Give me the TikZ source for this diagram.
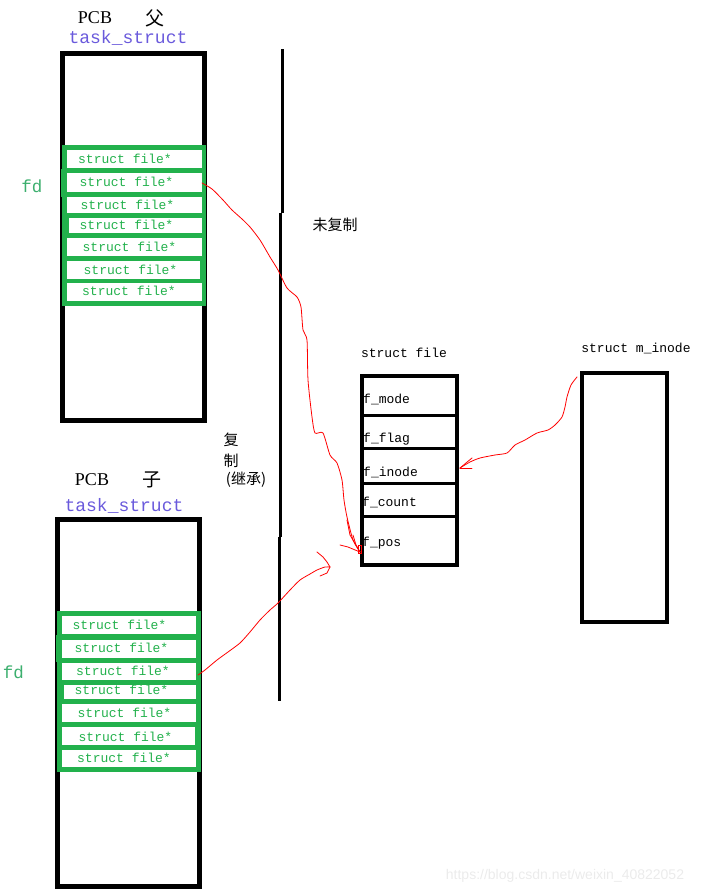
\documentclass[tikz,border=0pt]{standalone}
\usepackage{fontspec}
\setmainfont{Liberation Serif}
\setmonofont{Liberation Mono}
\newfontfamily\cjk{Noto Sans CJK SC}
\newfontfamily\wmfont{Liberation Sans}
\definecolor{pgreen}{RGB}{34,177,76}
\definecolor{fdgreen}{RGB}{60,175,110}
\definecolor{tspurple}{RGB}{106,90,220}
\begin{document}
\begin{tikzpicture}[x=1pt,y=-1pt,
  pcbbox/.style={draw=black,line width=5pt},
  fbox/.style={draw=black,line width=4pt},
  sfile/.style={font=\ttfamily\fontsize{13}{15}\selectfont,text=pgreen,inner sep=0pt},
  fdlab/.style={font=\ttfamily\fontsize{17.5}{20}\selectfont,text=fdgreen,inner sep=0pt},
  tslab/.style={font=\ttfamily\fontsize{18}{20}\selectfont,text=tspurple,inner sep=0pt},
  pcblab/.style={font=\fontsize{18}{20}\selectfont,inner sep=0pt},
  cjklab/.style={font=\cjk\fontsize{15}{18}\selectfont,inner sep=0pt},
  cjkbig/.style={font=\cjk\fontsize{19}{22}\selectfont,inner sep=0pt},
  mono/.style={font=\ttfamily\fontsize{13}{15}\selectfont,inner sep=0pt},
  field/.style={mono,anchor=base west},
  redline/.style={draw=red,line width=0.8pt,line cap=round,line join=round},
  sepline/.style={draw=black,line width=3pt}]
\useasboundingbox (0,0) rectangle (711,894);

% ---------- parent ----------
\node[pcblab] (ppcb) at (95,18) {PCB};
\node[cjkbig] (pfu) at (155,18) {父};
\node[tslab] (pts) at (128,38) {task\_struct};
\draw[pcbbox] (62.5,53.5) rectangle (204.5,420.5);
\fill[pgreen] (62,145) rectangle (206,306);
\fill[pgreen] (61,169) rectangle (66,197);
\fill[white] (67,150) rectangle (202,168);
\fill[white] (67,173) rectangle (202,192);
\fill[white] (67,197) rectangle (202,213);
\fill[white] (69,218) rectangle (202,233);
\fill[white] (67,238) rectangle (202,256);
\fill[white] (67,261) rectangle (200,279);
\fill[white] (67,283) rectangle (202,301);
\node[sfile] (pf1) at (125,159) {struct file*};
\node[sfile] (pf2) at (126.5,181.5) {struct file*};
\node[sfile] (pf3) at (127.5,204.5) {struct file*};
\node[sfile] (pf4) at (126.5,224.5) {struct file*};
\node[sfile] (pf5) at (129.5,247) {struct file*};
\node[sfile] (pf6) at (130.5,270) {struct file*};
\node[sfile] (pf7) at (129,291) {struct file*};
\node[fdlab] (pfd) at (32,186) {fd};

% ---------- child ----------
\node[pcblab] (cpcb) at (92,480) {PCB};
\node[cjkbig] (czi) at (152,480) {子};
\node[tslab] (cts) at (124,506) {task\_struct};
\draw[pcbbox] (57.5,519.5) rectangle (199.5,886.5);
\fill[pgreen] (57,611) rectangle (201,772);
\fill[pgreen] (56,635) rectangle (60,662);
\fill[white] (62,616) rectangle (196,634);
\fill[white] (62,640) rectangle (196,658);
\fill[white] (62,663) rectangle (196,680);
\fill[white] (64,685) rectangle (196,699);
\fill[white] (62,704) rectangle (196,722);
\fill[white] (62,727) rectangle (195,745);
\fill[white] (62,750) rectangle (196,767);
\node[sfile] (cf1) at (119.5,625) {struct file*};
\node[sfile] (cf2) at (121.5,647.5) {struct file*};
\node[sfile] (cf3) at (123,670.5) {struct file*};
\node[sfile] (cf4) at (121.5,690) {struct file*};
\node[sfile] (cf5) at (124.5,713) {struct file*};
\node[sfile] (cf6) at (125.5,736.5) {struct file*};
\node[sfile] (cf7) at (124,758) {struct file*};
\node[fdlab] (cfd) at (13.5,672) {fd};

% ---------- separator ----------
\coordinate (s0) at (282,49);
\coordinate (s1) at (282,213);
\coordinate (s2) at (280,213);
\coordinate (s3) at (280,537);
\coordinate (s4) at (279,537);
\coordinate (s5) at (279,701);
\draw[sepline] (s0) -- (s1);
\draw[sepline] (s2) -- (s3);
\draw[sepline] (s4) -- (s5);
\node[cjklab] (wfz) at (335,225) {未复制};
\node[cjklab] (fz1) at (231,440) {复};
\node[cjklab] (fz2) at (231,461) {制};
\node[cjklab] (fz3) at (246,480) {(继承)};

% ---------- struct file ----------
\node[mono] (sflab) at (404,353) {struct file};
\draw[fbox] (362,376) rectangle (457,565);
\draw[black,line width=3pt] (362,415) -- (457,415);
\draw[black,line width=3pt] (362,448) -- (457,448);
\draw[black,line width=3pt] (362,483) -- (457,483);
\draw[black,line width=3pt] (362,516) -- (457,516);
\node[field] (fmode) at (363,403) {f\_mode};
\node[field] (fflag) at (363,442) {f\_flag};
\node[field] (finode) at (363,476) {f\_inode};
\node[field] (fcount) at (362,506) {f\_count};
\node[field] (fpos) at (362,546) {f\_pos};

% ---------- m_inode ----------
\node[mono] (milab) at (636,348) {struct m\_inode};
\draw[fbox] (582,373) rectangle (667,622);

% ---------- red connectors ----------
\coordinate (pa0) at (202,183);
\coordinate (pa1) at (360,552);
\draw[redline] plot[smooth,tension=0.4] coordinates {(pa0) (212,189) (223,200) (232,210) (242,219) (250,227) (260,240) (270,257) (278,270) (287,288) (297,297) (301,307) (303,330) (307,340) (308,380) (312,417) (315,433) (323,433) (330,455) (337,463) (342,480) (344,500) (347,517) (353,540) (pa1)};
\draw[redline] (340,545) -- (348,547) -- (pa1);
\draw[redline] (353,535) -- (356,545) -- (pa1);
\draw[redline] (347,520) -- (350,535) -- (pa1);
\draw[red,line width=0.8pt] (358,545) rectangle (361,553);

\coordinate (ca0) at (198,675);
\coordinate (ca1) at (330,567);
\draw[redline] plot[smooth,tension=0.4] coordinates {(ca0) (205,670) (217,660) (228,652) (240,643) (250,632) (260,620) (270,610) (278,603) (290,590) (300,580) (310,574) (317,570) (325,567) (ca1)};
\draw[redline] (ca1) -- (327,562) -- (323,557) -- (317,552);
\draw[redline] (ca1) -- (327,573) -- (320,576);

\coordinate (ma0) at (577,377);
\coordinate (ma1) at (460,468);
\draw[redline] plot[smooth,tension=0.4] coordinates {(ma0) (571,385) (567,397) (565,407) (562,417) (555,425) (548,430) (537,433) (525,440) (515,445) (507,453) (495,455) (480,458) (470,462) (ma1)};
\draw[redline] (472,458) -- (ma1);
\draw[redline] (472,468) -- (ma1);

% ---------- watermark ----------
\node[font=\wmfont\fontsize{14}{16}\selectfont,text=black!8,inner sep=0pt] (wm) at (565,876) {https://blog.csdn.net/weixin\_40822052};
\end{tikzpicture}
\end{document}
